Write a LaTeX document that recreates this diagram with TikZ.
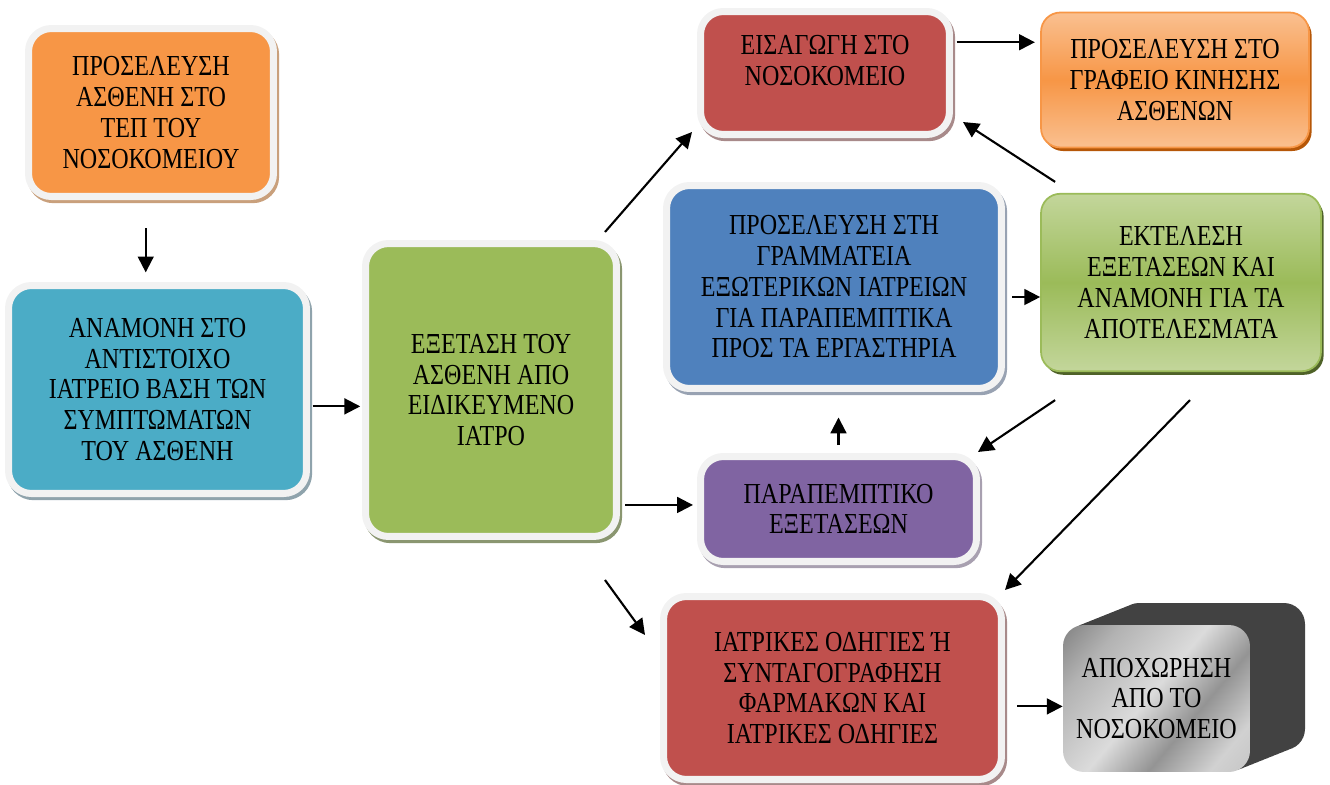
\documentclass[tikz,border=0pt]{standalone}
\usepackage{fontspec}
\setmainfont{Liberation Serif}[FakeStretch=0.83]
\usetikzlibrary{calc}
\usetikzlibrary{shadows}
\usetikzlibrary{arrows.meta}
\definecolor{tepOrange}{HTML}{F79646}
\definecolor{tepShadow}{HTML}{C9A07C}
\definecolor{waitTeal}{HTML}{4BACC6}
\definecolor{waitShadow}{HTML}{8FA3AC}
\definecolor{examGreen}{HTML}{9BBB59}
\definecolor{examShadow}{HTML}{8A9670}
\definecolor{admitRed}{HTML}{C0504D}
\definecolor{admitShadow}{HTML}{A88A8A}
\definecolor{labBlue}{HTML}{4F81BD}
\definecolor{labShadow}{HTML}{98A2B2}
\definecolor{refPurple}{HTML}{8064A2}
\definecolor{refShadow}{HTML}{A8A0B0}
\definecolor{frameGray}{HTML}{F2F2F2}
\definecolor{lightOrange}{HTML}{FAC090}
\definecolor{darkOrange}{HTML}{B65708}
\definecolor{lightGreen}{HTML}{C3D69B}
\definecolor{darkGreen}{HTML}{4F6228}
\pgfdeclarehorizontalshading{metal}{100bp}{color(0bp)=(black!70); color(28bp)=(black!30); color(48bp)=(black!14); color(62bp)=(black!42); color(76bp)=(black!18); color(100bp)=(black!30)}
\tikzstyle{flow}=[line width=1.2pt,-{Triangle[length=9pt,width=9pt]}]
\tikzstyle{every node}=[font=\fontsize{16.5pt}{17.5pt}\selectfont]
\tikzset{
  framed/.style 2 args={rectangle,rounded corners=13pt,draw=frameGray,line width=4pt,
    fill=#1,align=center,inner sep=2pt,
    drop shadow={shadow xshift=1.2pt,shadow yshift=-1.8pt,fill=#2,draw=#2,line width=4pt,opacity=1}},
  glossy/.style n args={3}{rectangle,rounded corners=11pt,draw=#1,line width=1pt,
    top color=#2,bottom color=#2,middle color=#1,align=center,inner sep=2pt,
    drop shadow={shadow xshift=1.5pt,shadow yshift=-2pt,fill=#3,opacity=1}}
}

\begin{document}
\begin{tikzpicture}[x=0.02cm,y=-0.02cm]
\useasboundingbox (0,0) rectangle (1330,785);
% left column
\node[framed={tepOrange}{tepShadow},minimum width=4.9cm,minimum height=3.36cm] (tep) at (151,112.5)
  {ΠΡΟΣΕΛΕΥΣΗ\\ΑΣΘΕΝΗ ΣΤΟ\\ΤΕΠ ΤΟΥ\\ΝΟΣΟΚΟΜΕΙΟΥ};
\node[framed={waitTeal}{waitShadow},minimum width=5.96cm,minimum height=4.16cm] (anamoni) at (157.5,389.5)
  {ΑΝΑΜΟΝΗ ΣΤΟ\\ΑΝΤΙΣΤΟΙΧΟ\\ΙΑΤΡΕΙΟ ΒΑΣΗ ΤΩΝ\\ΣΥΜΠΤΩΜΑΤΩΝ\\ΤΟΥ ΑΣΘΕΝΗ};
\node[framed={examGreen}{examShadow},minimum width=5.02cm,minimum height=5.86cm] (eksetasi) at (491,390)
  {ΕΞΕΤΑΣΗ ΤΟΥ\\ΑΣΘΕΝΗ ΑΠΟ\\ΕΙΔΙΚΕΥΜΕΝΟ\\ΙΑΤΡΟ};
% middle column
\node[framed={admitRed}{admitShadow},minimum width=4.98cm,minimum height=2.46cm,text depth=0.5cm] (eisagogi) at (825,73)
  {ΕΙΣΑΓΩΓΗ ΣΤΟ\\ΝΟΣΟΚΟΜΕΙΟ};
\node[framed={labBlue}{labShadow},minimum width=6.7cm,minimum height=4.06cm] (grammateia) at (834,287)
  {ΠΡΟΣΕΛΕΥΣΗ ΣΤΗ\\ΓΡΑΜΜΑΤΕΙΑ\\ΕΞΩΤΕΡΙΚΩΝ ΙΑΤΡΕΙΩΝ\\ΓΙΑ ΠΑΡΑΠΕΜΠΤΙΚΑ\\ΠΡΟΣ ΤΑ ΕΡΓΑΣΤΗΡΙΑ};
\node[framed={refPurple}{refShadow},minimum width=5.52cm,minimum height=2.1cm] (parapemptiko) at (838.5,509)
  {ΠΑΡΑΠΕΜΠΤΙΚΟ\\ΕΞΕΤΑΣΕΩΝ};
\node[framed={admitRed}{admitShadow},minimum width=6.76cm,minimum height=3.66cm] (odigies) at (832.5,688)
  {ΙΑΤΡΙΚΕΣ ΟΔΗΓΙΕΣ Ή\\ΣΥΝΤΑΓΟΓΡΑΦΗΣΗ\\ΦΑΡΜΑΚΩΝ ΚΑΙ\\ΙΑΤΡΙΚΕΣ ΟΔΗΓΙΕΣ};
% right column
\node[glossy={tepOrange}{lightOrange}{darkOrange},minimum width=5.36cm,minimum height=2.7cm] (grafeio) at (1175,80)
  {ΠΡΟΣΕΛΕΥΣΗ ΣΤΟ\\ΓΡΑΦΕΙΟ ΚΙΝΗΣΗΣ\\ΑΣΘΕΝΩΝ};
\node[glossy={examGreen}{lightGreen}{darkGreen},minimum width=5.6cm,minimum height=3.55cm] (ektelesi) at (1181,282.5)
  {ΕΚΤΕΛΕΣΗ\\ΕΞΕΤΑΣΕΩΝ ΚΑΙ\\ΑΝΑΜΟΝΗ ΓΙΑ ΤΑ\\ΑΠΟΤΕΛΕΣΜΑΤΑ};
% departure block with depth
\foreach \k in {11,...,1}
  \fill[black!74,rounded corners=12pt] (1063+5*\k,625-2*\k) rectangle ++(187,147);
\node[rectangle,rounded corners=12pt,shading=metal,shading angle=-40,align=center,
  minimum width=3.74cm,minimum height=2.94cm] (apoxorisi) at (1156.5,698.5)
  {ΑΠΟΧΩΡΗΣΗ\\ΑΠΟ ΤΟ\\ΝΟΣΟΚΟΜΕΙΟ};
% connectors
\draw[flow,shorten <=16pt,shorten >=5.5pt] ([xshift=-3pt]tep.south) -- ([xshift=-3pt]tep.south |- anamoni.north);
\draw[flow,shorten <=1.5pt,shorten >=1pt] ([yshift=-9.6pt]anamoni.east) -- ([yshift=-9.6pt]anamoni.east -| eksetasi.west);
\draw[flow] ($(eksetasi.north east)+(-15,-8)$) -- ($(eisagogi.south west)+(-5,-6)$);
\draw[flow,shorten <=2pt,shorten >=3pt] ([yshift=17.5pt]eisagogi.east) -- ([yshift=17.5pt]eisagogi.east -| grafeio.west);
\draw[flow] ($(ektelesi.north west)+(15,-11)$) -- ($(eisagogi.south east)+(10,-16)$);
\draw[flow,shorten <=4pt] ([yshift=-5.7pt]grammateia.east) -- ([yshift=-5.7pt]grammateia.east -| ektelesi.west);
\draw[flow] ($(ektelesi.south west)+(15,28)$) -- ($(parapemptiko.north east)+(-2,-1)$);
\draw[flow,shorten <=4.5pt,shorten >=14.5pt] (parapemptiko.north) -- (parapemptiko.north |- grammateia.south);
\draw[flow,shorten <=3pt,shorten >=2.3pt] ([yshift=2.3pt]parapemptiko.west -| eksetasi.east) -- ([yshift=2.3pt]parapemptiko.west);
\draw[flow] ($(ektelesi.south)+(9,28)$) -- ($(odigies.north east)+(0,-3)$);
\draw[flow] ($(eksetasi.south east)+(-15,40)$) -- ($(odigies.north west)+(-15,42)$);
\draw[flow,shorten <=7pt] ([yshift=-4.5pt]apoxorisi.west -| odigies.east) -- ([yshift=-4.5pt]apoxorisi.west);
\end{tikzpicture}
\end{document}
